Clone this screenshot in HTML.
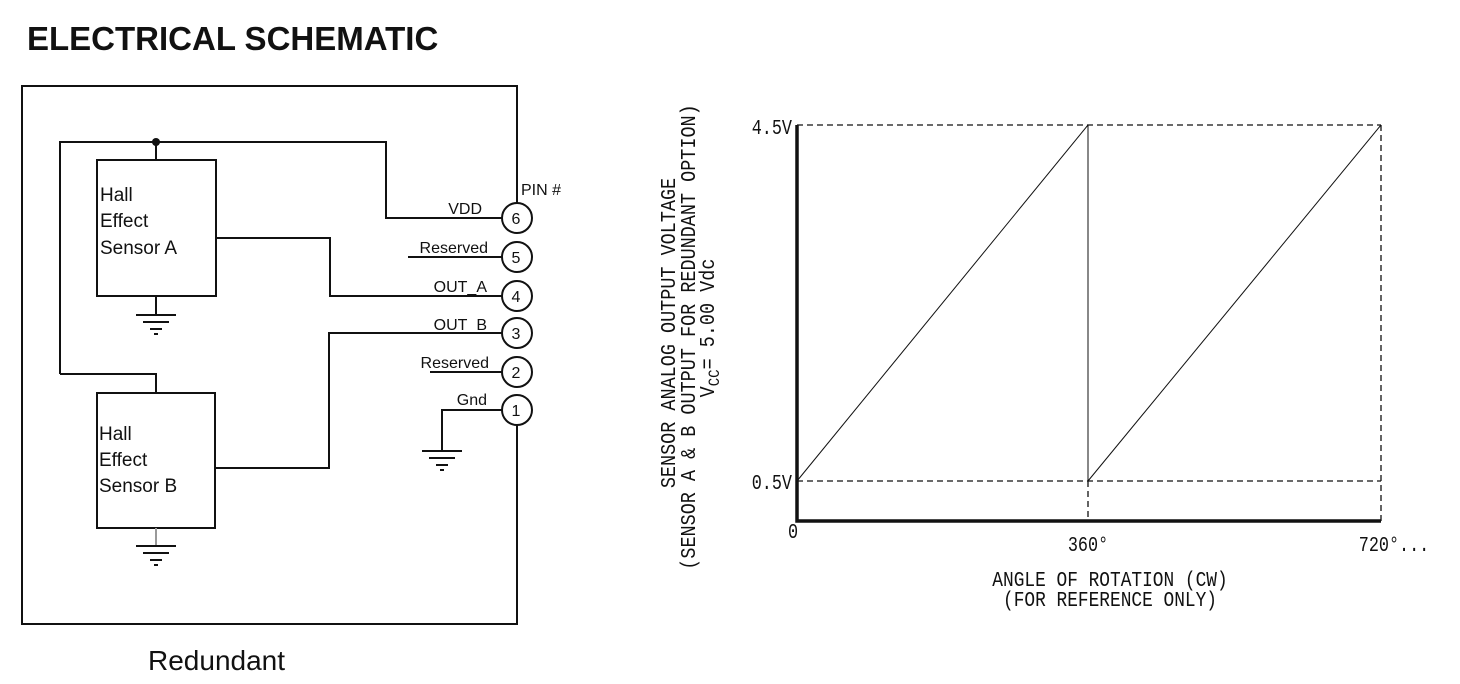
<!DOCTYPE html>
<html><head><meta charset="utf-8"><style>
html,body{margin:0;padding:0;background:#fff;}
svg{display:block;}
.s{font-family:"Liberation Sans",sans-serif;}
.m{font-family:"Liberation Mono",monospace;}
</style></head><body>
<svg width="1460" height="684" viewBox="0 0 1460 684" xmlns="http://www.w3.org/2000/svg">
<text x="27" y="50" class="s" font-size="33" font-weight="bold" fill="#111">ELECTRICAL SCHEMATIC</text>
<g fill="none" stroke="#111" stroke-width="2">
<polyline points="517,203 517,86 22,86 22,624 517,624 517,425"/>
<rect x="97" y="160" width="119" height="136"/>
<rect x="97" y="393" width="118" height="135"/>
<polyline points="60,374 60,142 386,142 386,218 502,218"/>
<line x1="156" y1="142" x2="156" y2="160"/>
<polyline points="60,374 156,374 156,393"/>
<polyline points="216,238 330,238 330,296 502,296"/>
<polyline points="215,468 329,468 329,333 502,333"/>
<line x1="408" y1="257" x2="502" y2="257"/>
<line x1="430" y1="372" x2="502" y2="372"/>
<polyline points="502,410 442,410 442,451"/>
<line x1="156" y1="296" x2="156" y2="315"/>
<line x1="156" y1="528" x2="156" y2="546" stroke="#999"/>
<circle cx="517" cy="218" r="15"/><circle cx="517" cy="257" r="15"/>
<circle cx="517" cy="296" r="15"/><circle cx="517" cy="333" r="15"/>
<circle cx="517" cy="372" r="15"/><circle cx="517" cy="410" r="15"/>
</g>
<g stroke="#111" stroke-width="2">
<line x1="136" y1="315" x2="176" y2="315"/><line x1="143" y1="322" x2="169" y2="322"/><line x1="150" y1="329" x2="162" y2="329"/><line x1="154" y1="334" x2="158" y2="334"/>
<line x1="136" y1="546" x2="176" y2="546"/><line x1="143" y1="553" x2="169" y2="553"/><line x1="150" y1="560" x2="162" y2="560"/><line x1="154" y1="565" x2="158" y2="565"/>
<line x1="422" y1="451" x2="462" y2="451"/><line x1="429" y1="458" x2="455" y2="458"/><line x1="436" y1="465" x2="448" y2="465"/><line x1="440" y1="470" x2="444" y2="470"/>
</g>
<circle cx="156" cy="142" r="4" fill="#111"/>
<g class="s" font-size="19" fill="#111">
<text x="100" y="201">Hall</text><text x="100" y="227">Effect</text><text x="100" y="254">Sensor A</text>
<text x="99" y="440">Hall</text><text x="99" y="466">Effect</text><text x="99" y="492">Sensor B</text>
</g>
<g class="s" font-size="16" fill="#111">
<text x="521" y="195">PIN #</text>
<text x="482" y="214" text-anchor="end">VDD</text>
<text x="488" y="253" text-anchor="end">Reserved</text>
<text x="487" y="292" text-anchor="end">OUT_A</text>
<text x="487" y="330" text-anchor="end">OUT_B</text>
<text x="489" y="368" text-anchor="end">Reserved</text>
<text x="487" y="405" text-anchor="end">Gnd</text>
<g font-size="16" text-anchor="middle">
<text x="516" y="224">6</text><text x="516" y="263">5</text><text x="516" y="302">4</text>
<text x="516" y="339">3</text><text x="516" y="378">2</text><text x="516" y="416">1</text>
</g>
</g>
<text x="148" y="670" class="s" font-size="28" fill="#111">Redundant</text>

<g fill="none" stroke="#111">
<g stroke-width="1.3" stroke-dasharray="6,4">
<line x1="797" y1="125" x2="1381" y2="125"/>
<line x1="1381" y1="125" x2="1381" y2="521"/>
<line x1="797" y1="481" x2="1381" y2="481"/>
<line x1="1088" y1="481" x2="1088" y2="521"/>
</g>
<g stroke-width="1">
<line x1="1088" y1="125" x2="1088" y2="481"/>
<line x1="797" y1="481" x2="1088" y2="125"/>
<line x1="1088" y1="481" x2="1381" y2="125"/>
</g>
<polyline points="797,125 797,521 1381,521" stroke-width="3.5"/>
</g>
<g class="m" font-size="21" fill="#111">
<text transform="translate(792,134) scale(0.8,1)" text-anchor="end">4.5V</text>
<text transform="translate(792,489) scale(0.8,1)" text-anchor="end">0.5V</text>
<text transform="translate(793,538) scale(0.8,1)" text-anchor="middle">0</text>
<text transform="translate(1088,551) scale(0.8,1)" text-anchor="middle">360°</text>
<text transform="translate(1394,551) scale(0.8,1)" text-anchor="middle">720°...</text>
<text transform="translate(1110,586) scale(0.85,1)" text-anchor="middle">ANGLE OF ROTATION (CW)</text>
<text transform="translate(1110,606) scale(0.85,1)" text-anchor="middle">(FOR REFERENCE ONLY)</text>
<text transform="translate(675,333) rotate(-90) scale(0.88,1)" text-anchor="middle">SENSOR ANALOG OUTPUT VOLTAGE</text>
<text transform="translate(695,337) rotate(-90) scale(0.88,1)" text-anchor="middle">(SENSOR A &amp; B OUTPUT FOR REDUNDANT OPTION)</text>
<text transform="translate(714,328) rotate(-90) scale(0.88,1)" text-anchor="middle">V<tspan font-size="16" dy="5">CC</tspan><tspan dy="-5">= 5.00 Vdc</tspan></text>
</g>
</svg>
</body></html>
